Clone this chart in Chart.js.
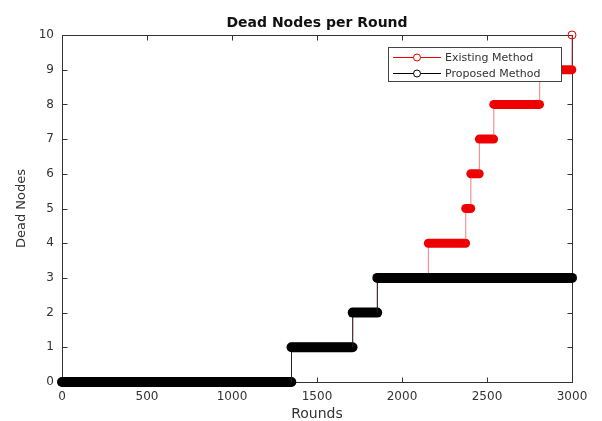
<!DOCTYPE html>
<html>
<head>
<meta charset="utf-8">
<script src="https://cdn.jsdelivr.net/npm/chart.js@4.4.0/dist/chart.umd.min.js"></script>
<style>
  html, body { margin: 0; padding: 0; background: #ffffff; }
  #wrap { width: 602px; height: 421px; }
</style>
</head>
<body>
<div id="wrap"><canvas id="c" width="602" height="421"></canvas></div>
<script>
// Chart text
const titleText = 'Dead Nodes per Round';
const xLabel = 'Rounds';
const yLabel = 'Dead Nodes';
const seriesNames = ['Existing Method', 'Proposed Method'];

// Axis ticks
const xTicks = [0, 500, 1000, 1500, 2000, 2500, 3000];
const yTicks = [0, 1, 2, 3, 4, 5, 6, 7, 8, 9, 10];
const lastRound = 3000;

// Round at which the dead-node count first reaches each value
const existingRounds = [0, 1350, 1710, 1855, 2155, 2375, 2405, 2455, 2540, 2810, 3000];
const existingDead   = [0, 1, 2, 3, 4, 5, 6, 7, 8, 9, 10];
const proposedRounds = [0, 1350, 1710, 1855];
const proposedDead   = [0, 1, 2, 3];

const FONT = '"DejaVu Sans", "Liberation Sans", Arial, sans-serif';
const RED = '#ee0000';
const BLACK = '#000000';

// Turn (round, count) change points into the plotted step outline:
// a flat run per count, then a jump to the next count.
function stepPoints(rounds, dead) {
  const pts = [];
  for (let i = 0; i < rounds.length; i++) {
    const start = rounds[i];
    const end = i < rounds.length - 1 ? rounds[i + 1] - 1 : lastRound;
    if (end > start) {
      pts.push({ x: start, y: dead[i] });
      pts.push({ x: end, y: dead[i] });
    } else {
      pts.push({ x: start, y: dead[i], mark: true });
    }
  }
  return pts;
}

function series(label, rounds, dead, color, riserColor, bandWidth, order) {
  return {
    label: label,
    data: stepPoints(rounds, dead),
    borderColor: color,
    backgroundColor: color,
    borderWidth: 1,
    borderCapStyle: 'round',
    borderJoinStyle: 'round',
    pointRadius: (c) => (c.raw && c.raw.mark ? 4 : 0),
    pointBorderWidth: 1,
    pointBorderColor: color,
    pointBackgroundColor: 'rgba(0,0,0,0)',
    pointHoverRadius: 0,
    fill: false,
    tension: 0,
    clip: false,
    order: order,
    segment: {
      // flat runs are a dense band of round markers; jumps are thin lines
      borderWidth: (s) => (s.p0.parsed.y === s.p1.parsed.y ? bandWidth : 1),
      borderColor: (s) => (s.p0.parsed.y === s.p1.parsed.y ? color : riserColor)
    }
  };
}

// Axes box with inward ticks on all four sides
const framePlugin = {
  id: 'frame',
  beforeDatasetsDraw(chart) {
    const { ctx, chartArea: a, scales } = chart;
    ctx.save();
    ctx.strokeStyle = '#333333';
    ctx.lineWidth = 1;
    const L = Math.round(a.left) + 0.5, R = Math.round(a.right) + 0.5;
    const T = Math.round(a.top) + 0.5, B = Math.round(a.bottom) + 0.5;
    ctx.strokeRect(L, T, R - L, B - T);
    const tl = 5;
    ctx.beginPath();
    xTicks.forEach((v) => {
      const x = Math.round(scales.x.getPixelForValue(v)) + 0.5;
      ctx.moveTo(x, B); ctx.lineTo(x, B - tl);
      ctx.moveTo(x, T); ctx.lineTo(x, T + tl);
    });
    yTicks.forEach((v) => {
      const y = Math.round(scales.y.getPixelForValue(v)) + 0.5;
      ctx.moveTo(L, y); ctx.lineTo(L + tl, y);
      ctx.moveTo(R, y); ctx.lineTo(R - tl, y);
    });
    ctx.stroke();
    ctx.restore();
  }
};

// Title over the axes and the boxed legend in the top-right corner
const overlayPlugin = {
  id: 'overlay',
  afterDraw(chart) {
    const { ctx, chartArea: a } = chart;
    ctx.save();
    ctx.fillStyle = '#111111';
    ctx.font = 'bold 14px ' + FONT;
    ctx.textAlign = 'center';
    ctx.textBaseline = 'middle';
    ctx.fillText(titleText, (a.left + a.right) / 2, 23);

    const bx = 388.5, by = 47.5, bw = 173, bh = 34;
    ctx.fillStyle = '#ffffff';
    ctx.fillRect(bx, by, bw, bh);
    ctx.strokeStyle = '#444444';
    ctx.lineWidth = 1;
    ctx.strokeRect(bx, by, bw, bh);

    const colors = [RED, BLACK];
    const rows = [57.5, 73.5];
    ctx.font = '11px ' + FONT;
    ctx.textAlign = 'left';
    seriesNames.forEach((name, i) => {
      const y = rows[i];
      ctx.strokeStyle = colors[i];
      ctx.beginPath();
      ctx.moveTo(393, y); ctx.lineTo(441, y);
      ctx.stroke();
      ctx.beginPath();
      ctx.arc(417, y, 3.5, 0, Math.PI * 2);
      ctx.fillStyle = '#ffffff';
      ctx.fill();
      ctx.stroke();
      ctx.fillStyle = '#333333';
      ctx.fillText(name, 445, y + 0.5);
    });
    ctx.restore();
  }
};

new Chart(document.getElementById('c'), {
  type: 'line',
  data: {
    datasets: [
      series(seriesNames[0], existingRounds, existingDead, RED, 'rgba(230,40,40,0.6)', 9, 2),
      series(seriesNames[1], proposedRounds, proposedDead, BLACK, '#222222', 10, 1)
    ]
  },
  options: {
    responsive: false,
    animation: false,
    devicePixelRatio: 1,
    layout: { padding: { left: 0, right: 30, top: 35, bottom: 0 } },
    plugins: {
      legend: { display: false },
      title: { display: false },
      tooltip: { enabled: false }
    },
    scales: {
      x: {
        type: 'linear',
        min: 0,
        max: lastRound,
        afterBuildTicks: (s) => { s.ticks = xTicks.map((v) => ({ value: v })); },
        afterFit: (s) => { s.height = 39; },
        grid: { display: false, drawTicks: false },
        border: { display: false },
        ticks: { padding: 8, color: '#333333', font: { family: FONT, size: 12 }, maxRotation: 0, callback: (v) => String(v) },
        title: { display: true, text: xLabel, color: '#333333', font: { family: FONT, size: 14 }, padding: { top: 0, bottom: -2 } }
      },
      y: {
        type: 'linear',
        min: 0,
        max: 10,
        afterBuildTicks: (s) => { s.ticks = yTicks.map((v) => ({ value: v })); },
        afterFit: (s) => { s.width = 62; },
        grid: { display: false, drawTicks: false },
        border: { display: false },
        ticks: { padding: 8, color: '#333333', font: { family: FONT, size: 12 }, callback: (v) => String(v) },
        title: { display: true, text: yLabel, color: '#333333', font: { family: FONT, size: 13 }, padding: { top: 14, bottom: 0 } }
      }
    }
  },
  plugins: [framePlugin, overlayPlugin]
});
</script>
</body>
</html>
